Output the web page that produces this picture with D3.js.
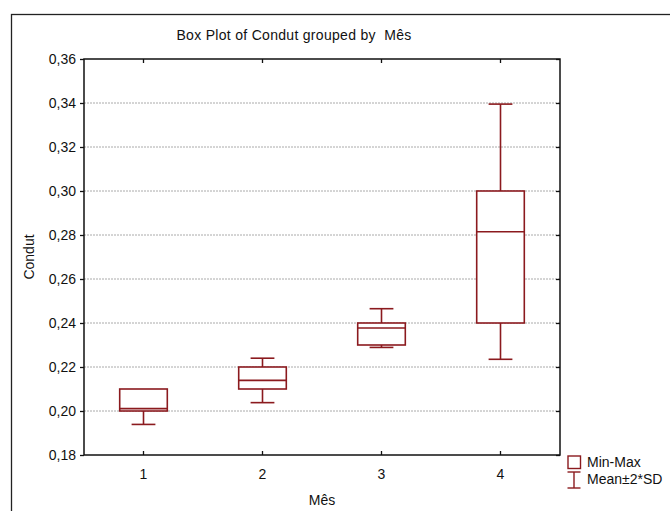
<!DOCTYPE html>
<html>
<head>
<meta charset="utf-8">
<script src="https://cdn.jsdelivr.net/npm/d3@7"></script>
<style>
  body { margin: 0; background: #fff; }
  text { font-family: Arial, "Liberation Sans", sans-serif; fill: #111; }
</style>
</head>
<body>
<div id="chart"></div>
<script>
// data
const months = ["1", "2", "3", "4"];
const minVals = [0.200, 0.210, 0.230, 0.240];
const maxVals = [0.210, 0.220, 0.240, 0.300];
const meanVals = [0.2011, 0.2139, 0.2377, 0.2815];
const sdVals = [0.0036, 0.00505, 0.0044, 0.029];
const yTicks = [0.18, 0.20, 0.22, 0.24, 0.26, 0.28, 0.30, 0.32, 0.34, 0.36];

const data = months.map((m, i) => ({
    mes: m, min: minVals[i], max: maxVals[i], mean: meanVals[i], sd: sdVals[i]
}));

const W = 670, H = 511;
const margin = { top: 59, right: 110, bottom: 56, left: 84 };
const width = W - margin.left - margin.right;
const height = H - margin.top - margin.bottom;
const red = "#8b1a1e";

const svgRoot = d3.select("#chart").append("svg")
    .attr("width", W)
    .attr("height", H);

// outer frame (runs off the right and bottom edge)
svgRoot.append("rect")
    .attr("x", 11.5).attr("y", 14.5)
    .attr("width", W + 20).attr("height", H + 20)
    .attr("fill", "none").attr("stroke", "#222").attr("stroke-width", 1.3);

const svg = svgRoot.append("g")
    .attr("transform", `translate(${margin.left}, ${margin.top})`);

const x = d3.scaleBand().domain(months).range([0, width]);
const y = d3.scaleLinear().domain([0.18, 0.36]).range([height, 0]);
const fmt = d => d3.format(".2f")(d).replace(".", ",");

// gridlines
svg.append("g")
    .selectAll("line")
    .data(yTicks.slice(1, -1))
    .enter().append("line")
    .attr("x1", 0).attr("x2", width)
    .attr("y1", d => y(d)).attr("y2", d => y(d))
    .attr("stroke", "#aaa")
    .attr("stroke-width", 1)
    .attr("stroke-dasharray", "2,1");

// axes
const yLeft = svg.append("g")
    .call(d3.axisLeft(y).tickValues(yTicks).tickSize(4).tickPadding(4).tickFormat(fmt));
const yRight = svg.append("g")
    .attr("transform", `translate(${width}, 0)`)
    .call(d3.axisRight(y).tickValues(yTicks).tickSize(-4).tickFormat(""));
const xBottom = svg.append("g")
    .attr("transform", `translate(0, ${height})`)
    .call(d3.axisBottom(x).tickSize(-4).tickPadding(14));
const xTop = svg.append("g")
    .call(d3.axisTop(x).tickSize(-4).tickFormat(""));

[yLeft, yRight, xBottom, xTop].forEach(g => {
    g.select(".domain").remove();
    g.selectAll("line").attr("stroke", "#111").attr("stroke-width", 1.3);
    g.selectAll("text")
        .style("font-size", "14px")
        .style("font-family", "Arial, 'Liberation Sans', sans-serif")
        .attr("fill", "#111");
});

// whiskers (mean +- 2*SD)
const cx = d => x(d.mes) + x.bandwidth() / 2;
const boxW = x.bandwidth() * 0.4;
const capW = boxW / 2;

const wh = svg.append("g").attr("stroke", red).attr("stroke-width", 1.6);
data.forEach(d => {
    const lo = d.mean - 2 * d.sd, hi = d.mean + 2 * d.sd;
    wh.append("line").attr("x1", cx(d)).attr("x2", cx(d))
        .attr("y1", y(lo)).attr("y2", y(hi));
    [lo, hi].forEach(v => {
        wh.append("line")
            .attr("x1", cx(d) - capW / 2).attr("x2", cx(d) + capW / 2)
            .attr("y1", y(v)).attr("y2", y(v));
    });
});

// boxes (min - max) and mean line
svg.selectAll(".box")
    .data(data)
    .enter().append("rect")
    .attr("class", "box")
    .attr("x", d => cx(d) - boxW / 2)
    .attr("y", d => y(d.max))
    .attr("width", boxW)
    .attr("height", d => y(d.min) - y(d.max))
    .attr("fill", "#fff")
    .attr("stroke", red)
    .attr("stroke-width", 1.6);

svg.selectAll(".meanLine")
    .data(data)
    .enter().append("line")
    .attr("class", "meanLine")
    .attr("x1", d => cx(d) - boxW / 2)
    .attr("x2", d => cx(d) + boxW / 2)
    .attr("y1", d => y(d.mean))
    .attr("y2", d => y(d.mean))
    .attr("stroke", red)
    .attr("stroke-width", 1.6);

// plot frame
svg.append("rect")
    .attr("width", width).attr("height", height)
    .attr("fill", "none").attr("stroke", "#111").attr("stroke-width", 1.5);

// titles
svgRoot.append("text")
    .attr("x", 294).attr("y", 40)
    .attr("text-anchor", "middle")
    .style("font-size", "14px")
    .style("letter-spacing", "0.3px")
    .text("Box Plot of Condut grouped by  Mês")
    .attr("xml:space", "preserve");

svgRoot.append("text")
    .attr("transform", `translate(34, ${margin.top + height / 2}) rotate(-90)`)
    .attr("text-anchor", "middle")
    .style("font-size", "14px")
    .text("Condut");

svgRoot.append("text")
    .attr("x", margin.left + width / 2).attr("y", 505)
    .attr("text-anchor", "middle")
    .style("font-size", "14px")
    .text("Mês");

// legend
const lg = svgRoot.append("g");
lg.append("rect")
    .attr("x", 568).attr("y", 456)
    .attr("width", 12.5).attr("height", 12.5)
    .attr("fill", "none").attr("stroke", red).attr("stroke-width", 1.4);
lg.append("text").attr("x", 587).attr("y", 467)
    .style("font-size", "14px").text("Min-Max");
lg.append("line").attr("x1", 574).attr("x2", 574).attr("y1", 472).attr("y2", 488)
    .attr("stroke", red).attr("stroke-width", 1.4);
[472, 488].forEach(v => {
    lg.append("line").attr("x1", 567.5).attr("x2", 580.5).attr("y1", v).attr("y2", v)
        .attr("stroke", red).attr("stroke-width", 1.4);
});
lg.append("text").attr("x", 587).attr("y", 484)
    .style("font-size", "14px").text("Mean±2*SD");
</script>
</body>
</html>
